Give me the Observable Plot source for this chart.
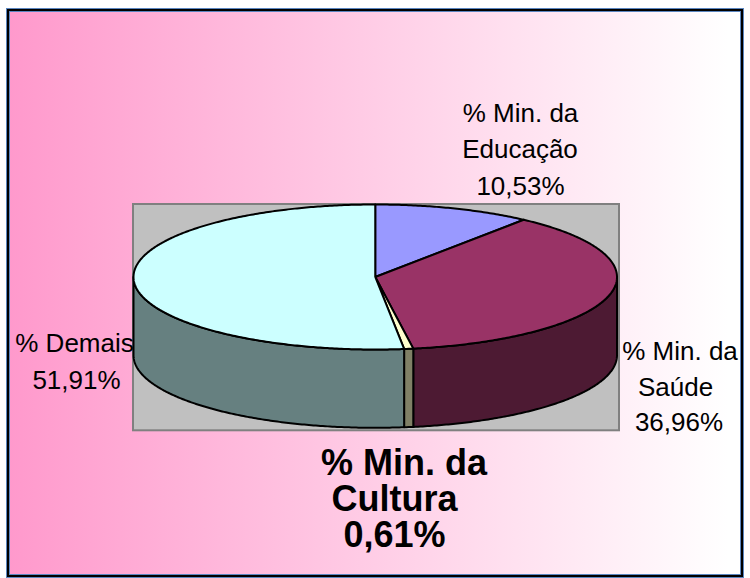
<!DOCTYPE html>
<html>
<head>
<meta charset="utf-8">
<script src="https://cdn.jsdelivr.net/npm/d3@7"></script>
<script src="https://cdn.jsdelivr.net/npm/@observablehq/plot@0.6"></script>
<style>
  html, body { margin: 0; padding: 0; background: #fff; width: 750px; height: 578px; overflow: hidden; }
  #frame {
    position: absolute; left: 6px; top: 8px; width: 738px; height: 570px; box-sizing: border-box;
    border: 1px solid #5b86c0;
    box-shadow: inset 0 0 0 2px #000, inset 0 0 0 3px #5b86c0;
    background: linear-gradient(to right, #ff99cc 0%, #ffffff 98%);
  }
  #chart { position: absolute; left: 0; top: 0; }
</style>
</head>
<body>
<div id="frame"></div>
<div id="chart"></div>
<script>
const categories = ["% Min. da Educação", "% Min. da Saúde", "% Min. da Cultura", "% Demais"];
const shares = [10.53, 36.96, 0.61, 51.91];
const topColors = ["#9999ff", "#993366", "#ffffcc", "#ccffff"];
const wallColors = ["#4d4d80", "#4d1a33", "#808066", "#668080"];
const valueLabels = ["10,53%", "36,96%", "0,61%", "51,91%"];

const depth = 1.08;
const total = d3.sum(shares);
const cum = d3.cumsum(shares);
const angleAt = (v) => (v / total) * 2 * Math.PI;
const rim = (a, drop = 0) => ({ x: Math.sin(a), y: Math.cos(a) - drop });
const arcAngles = (a0, a1) => {
  const n = Math.max(2, Math.ceil((a1 - a0) / 0.01));
  return d3.range(n + 1).map((i) => a0 + ((a1 - a0) * i) / n);
};

const slices = shares.map((v, i) => ({
  name: categories[i],
  a0: angleAt(i ? cum[i - 1] : 0),
  a1: angleAt(cum[i]),
  top: topColors[i],
  wall: wallColors[i]
}));

const topPath = (s) => {
  const p = [{ x: 0, y: 0 }, ...arcAngles(s.a0, s.a1).map((a) => rim(a))];
  p.push(p[0]);
  return p;
};
const wallPath = (s) => {
  const a0 = Math.max(s.a0, Math.PI / 2), a1 = Math.min(s.a1, 1.5 * Math.PI);
  if (a1 <= a0) return null;
  const as = arcAngles(a0, a1);
  const p = [...as.map((a) => rim(a)), ...as.slice().reverse().map((a) => rim(a, depth))];
  p.push(p[0]);
  return p;
};

const outline = { stroke: "#000", strokeWidth: 2, strokeLinejoin: "round" };
const label = (t, cx, cy, size, weight) =>
  Plot.text([t], {
    text: (d) => d, frameAnchor: "top-left", dx: cx, dy: cy, textAnchor: "middle", lineAnchor: "middle",
    fontSize: size, fontWeight: weight, fill: "#000", fontFamily: "Liberation Sans, Arial, sans-serif"
  });

const chart = Plot.plot({
  width: 750, height: 578,
  marginTop: 0, marginRight: 0, marginBottom: 0, marginLeft: 0,
  style: { background: "transparent" },
  x: { domain: [-1, 1], range: [133, 616.5], axis: null },
  y: { domain: [1, -1], range: [204, 349], axis: null },
  marks: [
    Plot.rect([{ x1: -1, x2: 1, y1: 1, y2: -1 - depth }], {
      x1: "x1", x2: "x2", y1: "y1", y2: "y2", fill: "#c0c0c0", stroke: "#808080", strokeWidth: 2,
      insetRight: -2.5, insetBottom: -3
    }),
    ...slices.flatMap((s) => {
      const w = wallPath(s);
      return w ? [Plot.line(w, { x: "x", y: "y", fill: s.wall, curve: "linear", ...outline })] : [];
    }),
    ...slices.map((s) => Plot.line(topPath(s), { x: "x", y: "y", fill: s.top, curve: "linear", ...outline })),
    label("% Min. da", 520, 113, 26, 400),
    label("Educação", 519.5, 149, 26, 400),
    label(valueLabels[0], 520, 186, 26, 400),
    label("% Min. da", 679.5, 351, 26, 400),
    label("Saúde", 675, 387, 26, 400),
    label(valueLabels[1], 678.5, 422, 26, 400),
    label("% Demais", 74, 343, 26, 400),
    label(valueLabels[3], 76, 380, 26, 400),
    label("% Min. da", 403.5, 462.5, 36, 700),
    label("Cultura", 394, 498.5, 36, 700),
    label(valueLabels[2], 394, 534.5, 36, 700)
  ]
});
document.getElementById("chart").append(chart);
</script>
</body>
</html>
